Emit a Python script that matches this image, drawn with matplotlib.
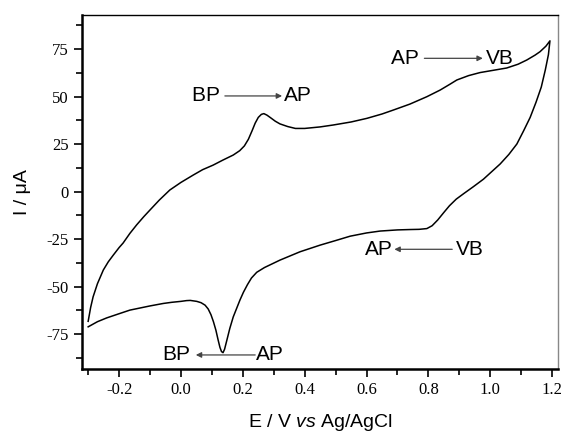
import matplotlib
matplotlib.use("Agg")
import matplotlib.pyplot as plt
from matplotlib.ticker import MultipleLocator

# forward sweep (-0.3 -> 1.2 V)
e_fwd = [-0.300, -0.292, -0.284, -0.270, -0.251, -0.235, -0.219, -0.200,
         -0.187, -0.165, -0.143, -0.120, -0.100, -0.070, -0.036, 0.000,
         0.040, 0.070, 0.104, 0.135, 0.169, 0.190, 0.205, 0.218, 0.230,
         0.240, 0.250, 0.260, 0.268, 0.278, 0.290, 0.305, 0.320, 0.345,
         0.370, 0.400, 0.450, 0.492, 0.550, 0.601, 0.650, 0.687, 0.740,
         0.795, 0.838, 0.870, 0.892, 0.930, 0.967, 1.010, 1.053, 1.090,
         1.118, 1.145, 1.161, 1.180, 1.193]
i_fwd = [-68.3, -61.0, -55.4, -48.5, -41.3, -37.0, -33.5, -29.5,
         -27.1, -22.0, -17.5, -13.2, -9.7, -4.5, 0.8, 4.8,
         8.7, 11.5, 13.9, 16.5, 19.2, 21.5, 24.0, 27.5, 32.0,
         36.0, 39.0, 40.6, 41.0, 40.2, 38.8, 37.0, 35.6, 34.2,
         33.2, 33.2, 34.0, 35.0, 36.6, 38.5, 40.8, 42.9, 46.0,
         49.9, 53.4, 56.5, 58.7, 61.0, 62.6, 63.8, 65.0, 67.0,
         69.2, 71.8, 73.6, 76.5, 79.3]

# reverse sweep (1.2 -> -0.3 V)
e_rev = [1.193, 1.188, 1.178, 1.165, 1.148, 1.129, 1.108, 1.086, 1.060,
         1.032, 1.005, 0.978, 0.945, 0.915, 0.890, 0.868, 0.850, 0.830,
         0.812, 0.795, 0.770, 0.741, 0.700, 0.644, 0.600, 0.547, 0.500,
         0.450, 0.385, 0.320, 0.270, 0.245, 0.228, 0.215, 0.202, 0.191,
         0.180, 0.169, 0.158, 0.148, 0.141, 0.136, 0.131, 0.126, 0.120,
         0.113, 0.105, 0.097, 0.088, 0.078, 0.065, 0.051, 0.030, 0.018,
         0.000, -0.030, -0.057, -0.100, -0.165, -0.200, -0.240, -0.270,
         -0.300]
i_rev = [79.3, 72.0, 64.0, 55.0, 47.0, 39.0, 32.0, 25.0, 19.5,
         14.5, 10.5, 6.5, 2.5, -1.0, -4.0, -7.5, -11.0, -15.0,
         -18.0, -19.5, -19.9, -20.0, -20.2, -20.8, -21.8, -23.5, -25.8,
         -28.2, -31.7, -36.1, -40.0, -42.5, -45.5, -49.0, -53.0, -57.0,
         -61.5, -66.0, -72.0, -78.5, -83.0, -84.8, -84.2, -82.0, -78.0,
         -73.0, -68.5, -64.8, -61.8, -59.8, -58.5, -57.8, -57.3, -57.4,
         -57.8, -58.3, -58.9, -60.2, -62.4, -64.3, -66.5, -68.5,
         -71.2]

plt.rcParams["mathtext.fontset"] = "custom"
plt.rcParams["mathtext.it"] = "Liberation Sans:italic"
plt.rcParams["mathtext.rm"] = "Liberation Sans"

fig = plt.figure(figsize=(5.65, 4.32), dpi=100)
ax = fig.add_axes([0.1451, 0.1458, 0.8425, 0.8195])

ax.plot(e_fwd + e_rev, i_fwd + i_rev, color="black", lw=1.1)

ax.set_xlim(-0.320, 1.219)
ax.set_ylim(-93.4, 92.9)
ax.xaxis.set_minor_locator(MultipleLocator(0.1))
ax.yaxis.set_minor_locator(MultipleLocator(12.5))
ax.tick_params(which="major", direction="out", length=6, width=1.2)
ax.tick_params(which="minor", direction="out", length=4, width=1.2)
ax.tick_params(top=False, right=False, labelsize=12)
ax.set_xticks([-0.2, 0.0, 0.2, 0.4, 0.6, 0.8, 1.0, 1.2])
ax.set_xticklabels(["-0.2", "0.0", "0.2", "0.4", "0.6", "0.8", "1.0", "1.2"],
                   family="Liberation Serif")
ax.set_yticks([-75, -50, -25, 0, 25, 50, 75])
ax.set_yticklabels(["-75", "-50", "-25", "0", "25", "50", "75"],
                   family="Liberation Serif")

ax.spines["left"].set_linewidth(1.8)
ax.spines["bottom"].set_linewidth(1.8)
ax.spines["top"].set_linewidth(1.0)
ax.spines["right"].set_linewidth(1.0)
ax.spines["right"].set_color("#888888")

ax.set_xlabel(r"E / V $\mathit{vs}$ Ag/AgCl", family="Liberation Sans",
              fontsize=14, labelpad=10)
ax.set_ylabel("I / \u03bcA", family="Liberation Sans", fontsize=14, labelpad=11)

arrow = dict(arrowstyle="-|>", color="#444444", lw=0.9,
             mutation_scale=8, shrinkA=0, shrinkB=0)
txt = dict(family="Liberation Sans", fontsize=15, va="center")

# BP -> AP (anodic peak)
ax.text(0.142, 50.3, "BP ", ha="right", **txt)
ax.annotate("", xy=(0.327, 50.3), xytext=(0.142, 50.3), arrowprops=arrow)
ax.text(0.333, 50.3, "AP", ha="left", **txt)

# AP -> VB
ax.text(0.785, 70.1, "AP ", ha="right", **txt)
ax.annotate("", xy=(0.976, 70.1), xytext=(0.787, 70.1), arrowprops=arrow)
ax.text(0.987, 70.1, "VB", ha="left", **txt)

# VB -> AP (reverse)
ax.text(0.684, -30.4, "AP", ha="right", **txt)
ax.annotate("", xy=(0.690, -30.4), xytext=(0.877, -30.4), arrowprops=arrow)
ax.text(0.890, -30.4, "VB", ha="left", **txt)

# AP -> BP (cathodic peak)
ax.text(0.029, -86.0, "BP", ha="right", **txt)
ax.annotate("", xy=(0.048, -86.0), xytext=(0.240, -86.0), arrowprops=arrow)
ax.text(0.243, -86.0, "AP", ha="left", **txt)

fig.savefig("out.png", dpi=100)
